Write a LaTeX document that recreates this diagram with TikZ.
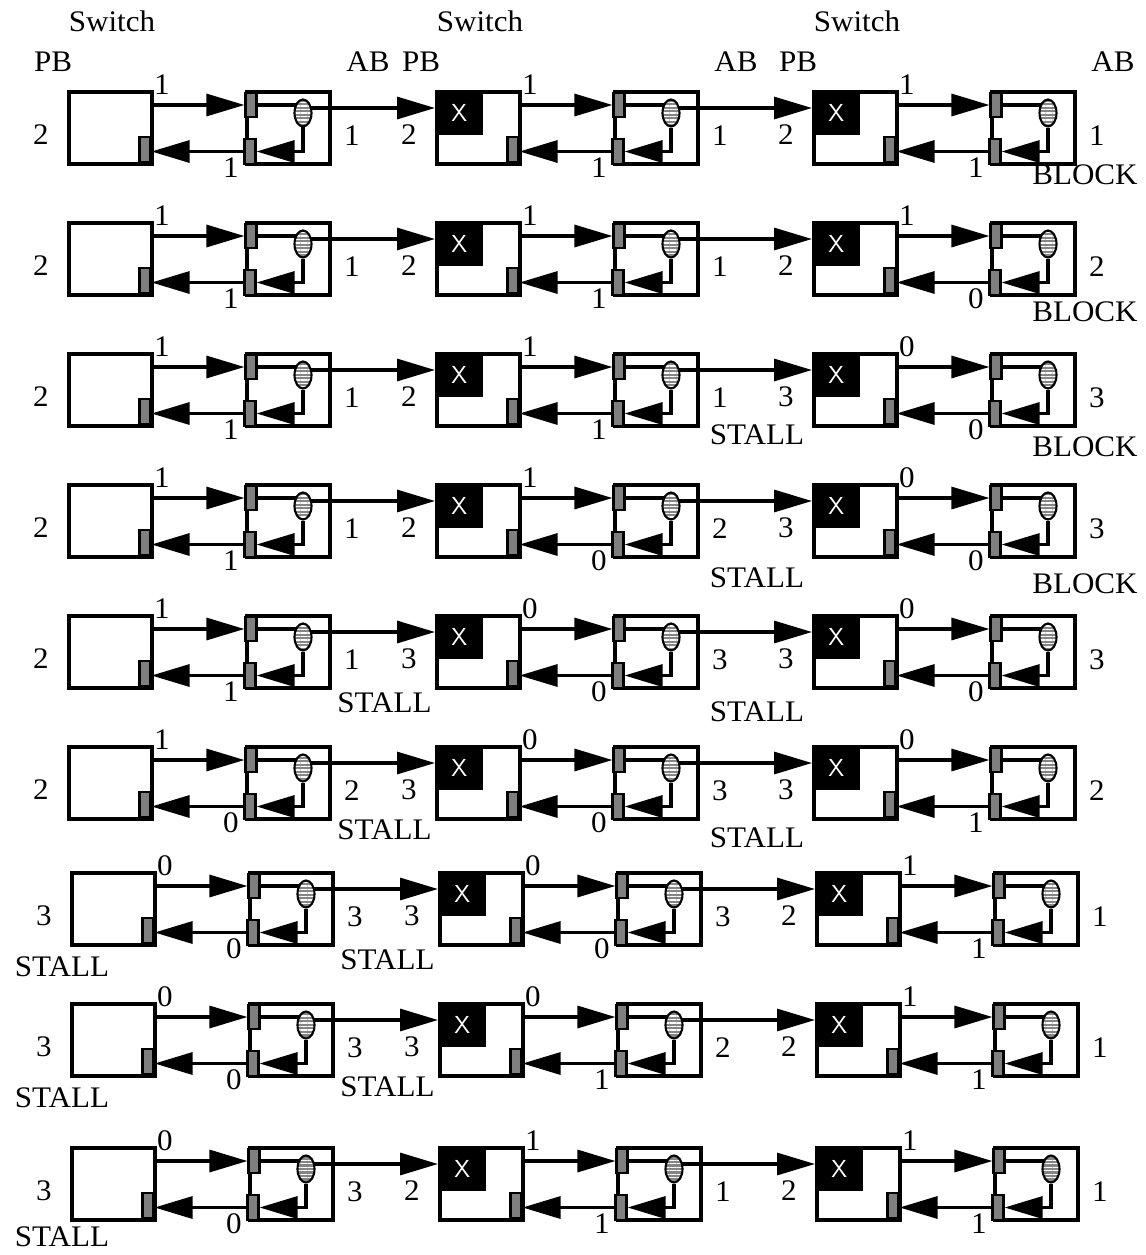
\documentclass[tikz,border=0pt]{standalone}
\usepackage{fontspec}
\setmainfont{Liberation Serif}[FakeStretch=1.04]
\usetikzlibrary{arrows.meta,calc,positioning,shapes.geometric,patterns.meta}
\definecolor{swPort}{HTML}{7F7F7F}
\definecolor{swFifo}{HTML}{858585}
\pgfdeclarelayer{wires}
\pgfsetlayers{wires,main}
\tikzset{
  sw box/.style={draw, line width=2.2pt, minimum width=1.66cm, minimum height=1.44cm,
    inner sep=0pt, anchor=north west},
  sw xbar/.style={fill=black, minimum width=.96cm, minimum height=.9cm, inner sep=0pt,
    anchor=north west, text=white, font=\fontsize{14}{16}\sffamily},
  sw port/.style={draw, fill=swPort, line width=1.2pt, minimum width=.22cm,
    minimum height=.49cm, inner sep=0pt},
  sw fifo/.style={ellipse, draw, line width=1.2pt, minimum width=.34cm, minimum height=.54cm,
    inner sep=0pt, preaction={fill=swFifo},
    pattern={Lines[angle=0,distance=2pt,line width=.7pt]}, pattern color=white},
  sw link/.style={draw, line width=1.8pt, -{Triangle[length=.76cm,width=.44cm]}},
  sw wire/.style={draw, line width=1.8pt},
  sw num/.style={font=\fontsize{17}{20}\selectfont, inner sep=0pt},
  sw note/.style={font=\fontsize{17}{20}\selectfont, inner sep=0pt}
}

\begin{document}
\begin{tikzpicture}[x=.02cm,y=-.02cm]
  \useasboundingbox (0,0) rectangle (1146,1255);

  % column headings
  \foreach \c/\X in {1/67,2/435,3/812}{
    \node[sw note] (hs-\c) at (\X+45,21) {Switch};
    \node[sw note] (hp-\c) at (\X-14,62) {PB};
    \node[sw note] (ha-\c) at (\X+301,62) {AB};
  }

  % row/column/PB count/forward credit/back credit/AB count
  \foreach \r/\c/\p/\f/\b/\a in {
      1/1/2/1/1/1, 1/2/2/1/1/1, 1/3/2/1/1/1,
      2/1/2/1/1/1, 2/2/2/1/1/1, 2/3/2/1/0/2,
      3/1/2/1/1/1, 3/2/2/1/1/1, 3/3/3/0/0/3,
      4/1/2/1/1/1, 4/2/2/1/0/2, 4/3/3/0/0/3,
      5/1/2/1/1/1, 5/2/3/0/0/3, 5/3/3/0/0/3,
      6/1/2/1/0/2, 6/2/3/0/0/3, 6/3/3/0/1/2,
      7/1/3/0/0/3, 7/2/3/0/0/3, 7/3/2/1/1/1,
      8/1/3/0/0/3, 8/2/3/0/1/2, 8/3/2/1/1/1,
      9/1/3/0/0/3, 9/2/2/1/1/1, 9/3/2/1/1/1}{
    \pgfmathsetmacro\T{{90,221,352,483,614,745,871,1002,1146}[\r-1]}
    \pgfmathsetmacro\X{{67,435,812}[\c-1]+(\r>6)*3}
    % PB side
    \node[sw box] (pb-\r-\c) at (\X,\T) {};
    \ifnum\c>1 \node[sw xbar] (xb-\r-\c) at (\X,\T) {X};\fi
    \node[sw port] (pp-\r-\c) at (\X+78,\T+59.5) {};
    % AB side
    \node[sw box] (ab-\r-\c) at (\X+178,\T) {};
    \node[sw port] (tp-\r-\c) at (\X+184,\T+15) {};
    \node[sw port] (bp-\r-\c) at (\X+183,\T+61.5) {};
    \node[sw fifo] (fifo-\r-\c) at (\X+236,\T+23) {};
    \begin{pgfonlayer}{wires}
      \draw[sw link] (pb-\r-\c.east |- tp-\r-\c.west) -- (tp-\r-\c.west);
      \draw[sw wire] (tp-\r-\c.east) -- (tp-\r-\c.east -| fifo-\r-\c.center);
      \draw[sw link] (fifo-\r-\c.south) |- (bp-\r-\c.east);
      \draw[sw link] (bp-\r-\c.west) -- (bp-\r-\c.west -| pp-\r-\c.east);
      \ifnum\c>1
        \pgfmathtruncatemacro\q{\c-1}
        \coordinate (out-\r-\q) at ($(fifo-\r-\q)+(0,-5)$);
        \draw[sw link] (out-\r-\q) -- (out-\r-\q -| pb-\r-\c.west);
      \fi
    \end{pgfonlayer}
    % counts
    \node[sw num] (pn-\r-\c) at (\X-26,\T+45) {\p};
    \node[sw num] (fn-\r-\c) at (\X+95,\T-5) {\f};
    \node[sw num] (bn-\r-\c) at (\X+164,\T+78) {\b};
    \node[sw num] (an-\r-\c) at (\X+285,\T+46) {\a};
  }

  % BLOCK under the last AB
  \foreach \r/\d in {1/39,2/45,3/49,4/55}
    \node[sw note] (blk-\r) at ($(an-\r-3)+(-12,\d)$) {BLOCK};

  % STALL between an AB and the next PB
  \foreach \r/\c/\n/\d in {3/2/3/37,4/2/3/49,5/2/3/52,6/2/3/47,
                           5/1/2/43,6/1/2/39,7/1/2/43,8/1/2/39}
    \node[sw note] (st-\r-\c) at ($(an-\r-\c)!.5!(pn-\r-\n)+(4,\d)$) {STALL};

  % STALL under the first PB
  \foreach \r/\d in {7/51,8/51,9/46}
    \node[sw note] (st-\r-0) at ($(pn-\r-1)+(18,\d)$) {STALL};
\end{tikzpicture}
\end{document}
